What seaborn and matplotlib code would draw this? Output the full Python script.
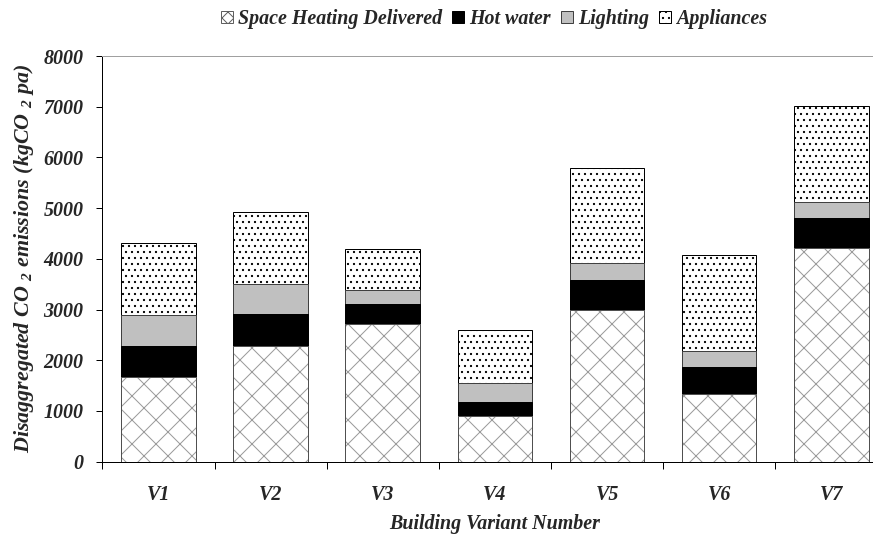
import numpy as np
import pandas as pd
import matplotlib
matplotlib.use("Agg")
import matplotlib.pyplot as plt
import seaborn as sns
from matplotlib.patches import Patch

# --- values (kgCO2 pa) ---
variants = ["V1", "V2", "V3", "V4", "V5", "V6", "V7"]
space_heating = [1680, 2290, 2710, 900, 2990, 1330, 4220]
hot_water = [600, 620, 390, 280, 590, 540, 590]
lighting = [620, 600, 280, 370, 330, 320, 320]
appliances = [1420, 1410, 820, 1050, 1890, 1880, 1890]
y_ticks = [0, 1000, 2000, 3000, 4000, 5000, 6000, 7000, 8000]

df = pd.DataFrame({
    "variant": variants,
    "Space Heating Delivered": space_heating,
    "Hot water": hot_water,
    "Lighting": lighting,
    "Appliances": appliances,
})
components = ["Space Heating Delivered", "Hot water", "Lighting", "Appliances"]
cum = df[components].cumsum(axis=1)

sns.set_theme(style="white")
plt.rcParams["font.family"] = ["Liberation Serif", "DejaVu Serif"]
plt.rcParams["font.weight"] = "bold"
plt.rcParams["font.style"] = "italic"
plt.rcParams["axes.labelweight"] = "bold"
plt.rcParams["mathtext.fontset"] = "custom"
plt.rcParams["mathtext.rm"] = "Liberation Serif:italic:bold"
plt.rcParams["mathtext.it"] = "Liberation Serif:italic:bold"
plt.rcParams["hatch.linewidth"] = 1.0

# dpi 72 -> 1pt == 1px
fig = plt.figure(figsize=(873 / 72, 538 / 72), dpi=72)
ax = fig.add_axes([102.4 / 873, 76.3 / 538, 785 / 873, 405.7 / 538])

styles = {
    "Appliances": dict(color="white", edgecolor="black", hatch=".."),
    "Lighting": dict(color="#c0c0c0", edgecolor="#404040"),
    "Hot water": dict(color="black", edgecolor="black"),
    "Space Heating Delivered": dict(color="white", edgecolor="#9a9a9a", hatch="x"),
}

# paint cumulative totals from the top layer down
for comp in components[::-1]:
    sns.barplot(x=df["variant"], y=cum[comp], ax=ax, width=0.665,
                linewidth=1.0, saturation=1, **styles[comp])

# darker outline on the hatched bottom segment
sns.barplot(x=df["variant"], y=cum["Space Heating Delivered"], ax=ax, width=0.665,
            fill=False, edgecolor="#505050", linewidth=1.0)

ax.set_ylim(0, 8000)
ax.set_xlim(-0.5, 6.5)
ax.set_yticks(y_ticks)
ax.set_yticklabels([str(t) for t in y_ticks], fontsize=20)
ax.set_xticks(range(len(variants)))
ax.set_xticklabels(variants, fontsize=20)
ax.set_xticks(np.arange(-0.5, 7.0, 1.0), minor=True)
ax.tick_params(axis="x", which="major", length=0, pad=23)
ax.tick_params(axis="x", which="minor", length=7, width=1, color="black", direction="out", bottom=True)
ax.tick_params(axis="y", length=6, width=1, color="black", direction="out", left=True, pad=13)

for s in ["left", "bottom"]:
    ax.spines[s].set_color("black")
    ax.spines[s].set_linewidth(1.0)
ax.spines["top"].set_color("#a0a0a0")
ax.spines["top"].set_linewidth(1.0)
ax.spines["right"].set_visible(False)

ax.set_xlabel("Building Variant Number", fontsize=20, fontweight="bold", labelpad=9)
ax.set_ylabel(r"Disaggregated CO $_2$ emissions (kgCO $_2$ pa)", fontsize=22,
              fontweight="bold", labelpad=7)

handles = [
    Patch(facecolor="white", edgecolor="#606060", hatch="xx", label="Space Heating Delivered"),
    Patch(facecolor="black", edgecolor="black", label="Hot water"),
    Patch(facecolor="#c0c0c0", edgecolor="#404040", label="Lighting"),
    Patch(facecolor="white", edgecolor="black", hatch="..", label="Appliances"),
]
fig.legend(handles=handles, loc="center", bbox_to_anchor=(494 / 873, 1 - 19 / 538),
           ncol=4, frameon=False, fontsize=20, handlelength=0.6, handleheight=0.6,
           handletextpad=0.25, columnspacing=0.5)

fig.savefig("out.png", dpi=72)
